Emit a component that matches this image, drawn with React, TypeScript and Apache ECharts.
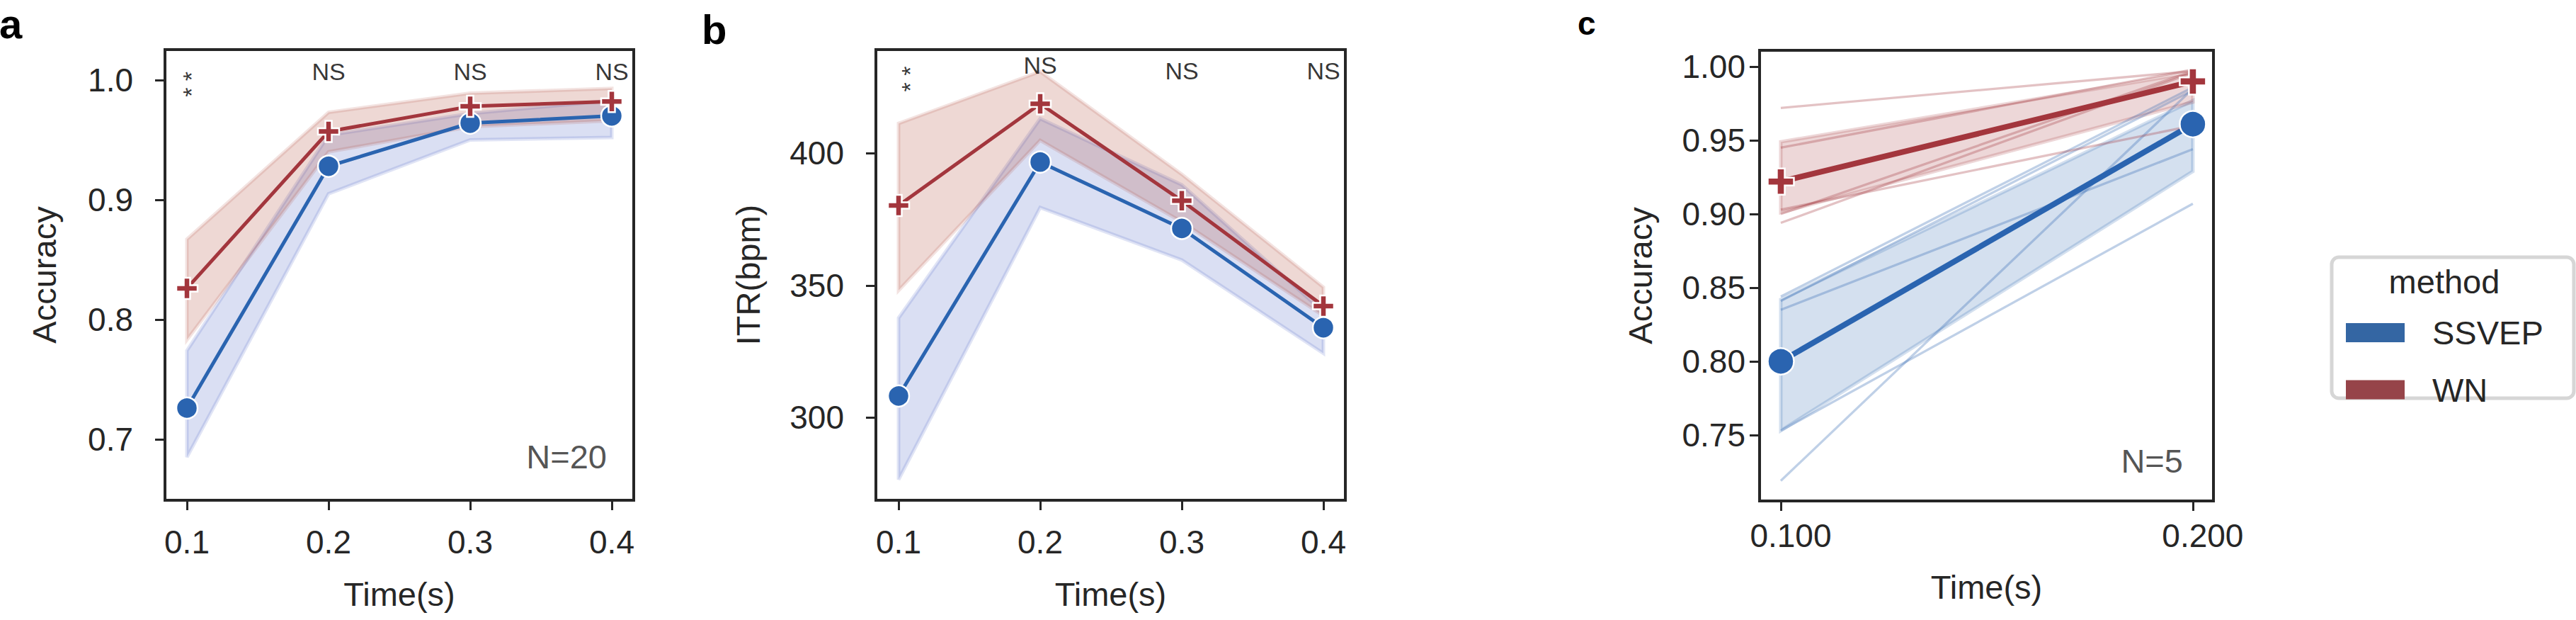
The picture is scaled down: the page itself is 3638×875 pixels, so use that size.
import React, { useEffect, useRef } from "react";
import * as echarts from "echarts";

// ---------- data ----------
const times4 = [0.1, 0.2, 0.3, 0.4];
const timesC = [0.1, 0.2];

// panel a: accuracy
const accSSVEP = [0.726, 0.928, 0.964, 0.970];
const accSSVEPLow = [0.685, 0.905, 0.950, 0.952];
const accSSVEPHigh = [0.774, 0.954, 0.972, 0.983];
const accWN = [0.826, 0.957, 0.978, 0.982];
const accWNLow = [0.783, 0.940, 0.961, 0.966];
const accWNHigh = [0.867, 0.973, 0.989, 0.993];

// panel b: ITR
const itrSSVEP = [308.2, 396.6, 371.5, 334.0];
const itrSSVEPLow = [276.6, 379.4, 359.6, 324.3];
const itrSSVEPHigh = [337.7, 413.0, 388.0, 340.0];
const itrWN = [380.2, 418.6, 382.0, 342.2];
const itrWNLow = [348.1, 404.8, 374.0, 338.5];
const itrWNHigh = [411.2, 430.8, 392.0, 349.3];

// panel c: accuracy, N=5
const cSSVEP = [0.800, 0.961];
const cSSVEPLow = [0.753, 0.929];
const cSSVEPHigh = [0.842, 0.977];
const cWN = [0.922, 0.990];
const cWNLow = [0.901, 0.976];
const cWNHigh = [0.949, 0.996];
const ssvepSubjects = [
  [0.844, 0.986],
  [0.841, 0.984],
  [0.835, 0.944],
  [0.753, 0.907],
  [0.719, 0.985],
];
const wnSubjects = [
  [0.972, 0.997],
  [0.945, 0.998],
  [0.903, 0.960],
  [0.900, 0.997],
  [0.894, 0.996],
];

// ticks
const ticksX4 = [0.1, 0.2, 0.3, 0.4];
const ticksXC = [0.1, 0.2];
const ticksYA = [0.7, 0.8, 0.9, 1.0];
const ticksYB = [300, 350, 400];
const ticksYC = [0.75, 0.8, 0.85, 0.9, 0.95, 1.0];

// significance annotations ("**" is shown stacked vertically)
const sigText = ["* *", "NS", "NS", "NS"];
const sigXA = [0.103, 0.2, 0.3, 0.4];
const sigYA = [0.99645, 1.0071, 1.0071, 1.0071];
const sigXB = [0.108, 0.2, 0.3, 0.4];
const sigYB = [428.0, 433.2, 431.2, 431.2];

const methods = ["SSVEP", "WN"];

// ---------- styles ----------
const FONT = "Liberation Sans, Arial, Helvetica, sans-serif";
const INK = "#262626";
const BLUE = "#2a64b0";
const RED = "#a3363d";
const PLUS = "path://M7,0H13V7H20V13H13V20H7V13H0V7H7Z";

function xAxis(gi: number, min: number, max: number, ticks: number[], dec: number, margin: number, nameGap: number, pad: number) {
  return {
    type: "value",
    gridIndex: gi,
    min,
    max,
    name: "Time(s)",
    nameLocation: "middle",
    nameGap,
    nameTextStyle: { fontSize: 47, color: INK, fontFamily: FONT },
    axisLine: { show: false },
    splitLine: { show: false },
    axisTick: { show: true, length: 14, lineStyle: { color: INK, width: 3 }, customValues: ticks },
    axisLabel: {
      show: true,
      customValues: ticks,
      formatter: (v: number) => Number(v).toFixed(dec),
      fontSize: 46,
      color: INK,
      fontFamily: FONT,
      margin,
      padding: [0, 0, 0, pad],
    },
  };
}

function yAxis(gi: number, min: number, max: number, ticks: number[], dec: number, margin: number, name: string, nameGap: number) {
  return {
    type: "value",
    gridIndex: gi,
    min,
    max,
    name,
    nameLocation: "middle",
    nameGap,
    nameTextStyle: { fontSize: 47, color: INK, fontFamily: FONT },
    axisLine: { show: false },
    splitLine: { show: false },
    axisTick: { show: true, length: 14, lineStyle: { color: INK, width: 3 }, customValues: ticks },
    axisLabel: {
      show: true,
      customValues: ticks,
      formatter: (v: number) => Number(v).toFixed(dec),
      fontSize: 46,
      color: INK,
      fontFamily: FONT,
      margin,
    },
  };
}

function band(ai: number, xs: number[], lo: number[], hi: number[], fill: string, stroke: string, lw: number) {
  return {
    type: "custom",
    xAxisIndex: ai,
    yAxisIndex: ai,
    silent: true,
    data: [[xs[0], lo[0]]],
    renderItem: (_p: any, api: any) => {
      const top = xs.map((x, i) => api.coord([x, hi[i]]));
      const bot = xs.map((x, i) => api.coord([x, lo[i]])).reverse();
      return {
        type: "polygon",
        shape: { points: top.concat(bot) },
        style: { fill, stroke, lineWidth: lw, lineJoin: "miter" },
      };
    },
  };
}

function meanLine(ai: number, name: string, xs: number[], ys: number[], color: string, symbol: string, size: number, width: number) {
  return {
    type: "line",
    name,
    xAxisIndex: ai,
    yAxisIndex: ai,
    silent: true,
    data: xs.map((x, i) => [x, ys[i]]),
    symbol,
    symbolSize: size,
    showSymbol: true,
    lineStyle: { color, width },
    itemStyle: { color, borderColor: "#ffffff", borderWidth: 2.5 },
    emphasis: { disabled: true },
  };
}

function subjectLine(ai: number, xs: number[], ys: number[], color: string) {
  return {
    type: "line",
    xAxisIndex: ai,
    yAxisIndex: ai,
    silent: true,
    data: xs.map((x, i) => [x, ys[i]]),
    symbol: "none",
    lineStyle: { color, width: 3.3, opacity: 0.3 },
    emphasis: { disabled: true },
  };
}

function annot(ai: number, xs: number[], ys: number[], texts: string[]) {
  return {
    type: "scatter",
    xAxisIndex: ai,
    yAxisIndex: ai,
    silent: true,
    symbolSize: 0,
    data: xs.map((x, i) => {
      const star = texts[i].indexOf("*") >= 0;
      return {
        value: [x, ys[i]],
        label: {
          show: true,
          position: [0, 0],
          align: "center",
          verticalAlign: "middle",
          rotate: star ? 90 : 0,
          formatter: texts[i],
          fontSize: 34,
          color: "#000000",
          fontFamily: FONT,
        },
      };
    }),
  };
}

function nLabel(ai: number, x: number, y: number, text: string) {
  return {
    type: "scatter",
    xAxisIndex: ai,
    yAxisIndex: ai,
    silent: true,
    symbolSize: 0,
    data: [
      {
        value: [x, y],
        label: {
          show: true,
          position: [0, 0],
          align: "right",
          verticalAlign: "middle",
          formatter: text,
          fontSize: 47,
          color: INK,
          fontFamily: FONT,
        },
      },
    ],
  };
}

export default function App() {
  const ref = useRef<HTMLDivElement>(null);

  useEffect(() => {
    document.body.style.margin = "0";
    const chart = echarts.init(ref.current as HTMLDivElement, null, { renderer: "svg" });

    const blueBandAB = "rgba(60,85,190,0.19)";
    const blueEdgeAB = "rgba(60,85,190,0.16)";
    const redBandAB = "rgba(170,60,40,0.2)";
    const redEdgeAB = "rgba(170,60,40,0.14)";
    const blueBandC = "rgba(42,100,176,0.2)";
    const redBandC = "rgba(163,54,61,0.2)";

    const series: any[] = [
      // panel a
      band(0, times4, accSSVEPLow, accSSVEPHigh, blueBandAB, blueEdgeAB, 5),
      band(0, times4, accWNLow, accWNHigh, redBandAB, redEdgeAB, 5),
      meanLine(0, "SSVEP-a", times4, accSSVEP, BLUE, "circle", 30, 5),
      meanLine(0, "WN-a", times4, accWN, RED, PLUS, 30, 5),
      annot(0, sigXA, sigYA, sigText),
      nLabel(0, 0.3965, 0.6852, "N=20"),
      // panel b
      band(1, times4, itrSSVEPLow, itrSSVEPHigh, blueBandAB, blueEdgeAB, 5),
      band(1, times4, itrWNLow, itrWNHigh, redBandAB, redEdgeAB, 5),
      meanLine(1, "SSVEP-b", times4, itrSSVEP, BLUE, "circle", 30, 5),
      meanLine(1, "WN-b", times4, itrWN, RED, PLUS, 30, 5),
      annot(1, sigXB, sigYB, sigText),
    ];
    // panel c
    ssvepSubjects.forEach((s) => series.push(subjectLine(2, timesC, s, BLUE)));
    series.push(band(2, timesC, cSSVEPLow, cSSVEPHigh, blueBandC, blueBandC, 5));
    series.push(meanLine(2, methods[0], timesC, cSSVEP, BLUE, "circle", 37, 8));
    wnSubjects.forEach((s) => series.push(subjectLine(2, timesC, s, RED)));
    series.push(band(2, timesC, cWNLow, cWNHigh, redBandC, redBandC, 5));
    series.push(meanLine(2, methods[1], timesC, cWN, RED, PLUS, 37, 8));
    series.push(nLabel(2, 0.1976, 0.7326, "N=5"));

    const gridBase = { show: true, borderColor: INK, borderWidth: 4, backgroundColor: "transparent", containLabel: false };

    chart.setOption({
      animation: false,
      backgroundColor: "#ffffff",
      textStyle: { fontFamily: FONT },
      grid: [
        { ...gridBase, left: 233, top: 70, width: 662, height: 636 },
        { ...gridBase, left: 1237, top: 70, width: 663, height: 636 },
        { ...gridBase, left: 2485, top: 71, width: 641, height: 636 },
      ],
      xAxis: [
        xAxis(0, 0.0845, 0.4155, ticksX4, 1, 36, 109, 0),
        xAxis(1, 0.084, 0.4155, ticksX4, 1, 36, 109, 0),
        xAxis(2, 0.09485, 0.205, ticksXC, 3, 26, 98, 28),
      ],
      yAxis: [
        yAxis(0, 0.649, 1.0254, ticksYA, 1, 45, "Accuracy", 147),
        yAxis(1, 268.8, 439.1, ticksYB, 0, 45, "ITR(bpm)", 157),
        yAxis(2, 0.7053, 1.0111, ticksYC, 2, 20, "Accuracy", 145),
      ],
      legend: {
        left: 3313,
        top: 446,
        orient: "vertical",
        itemWidth: 83,
        itemHeight: 27,
        itemGap: 33.5,
        padding: 0,
        selectedMode: false,
        icon: "rect",
        formatter: (name: string) => "{t|" + name + "}",
        textStyle: {
          fontSize: 47,
          color: INK,
          fontFamily: FONT,
          lineHeight: 27,
          rich: { t: { fontSize: 47, color: INK, fontFamily: FONT, lineHeight: 27, padding: [0, 0, 0, 34] } },
        },
        data: [
          { name: methods[0], icon: "rect", itemStyle: { color: "#3466a3", borderWidth: 0 } },
          { name: methods[1], icon: "rect", itemStyle: { color: "#964449", borderWidth: 0 } },
        ],
      },
      graphic: [
        { type: "rect", z: -1, shape: { x: 3293, y: 363, width: 342, height: 199, r: 10 }, style: { fill: "#ffffff", stroke: "#d6d6d6", lineWidth: 5 } },
        { type: "text", style: { x: 3452, y: 397, text: "method", fontSize: 47, fill: INK, fontFamily: FONT, align: "center", verticalAlign: "middle" } },
        { type: "text", style: { x: -1, y: 33, text: "a", fontSize: 58, fontWeight: "bold", fill: "#000", fontFamily: FONT, align: "left", verticalAlign: "middle" } },
        { type: "text", style: { x: 991, y: 41, text: "b", fontSize: 58, fontWeight: "bold", fill: "#000", fontFamily: FONT, align: "left", verticalAlign: "middle" } },
        { type: "text", style: { x: 2228, y: 33, text: "c", fontSize: 46, fontWeight: "bold", fill: "#000", fontFamily: FONT, align: "left", verticalAlign: "middle" } },
      ],
      series,
    });

    return () => chart.dispose();
  }, []);

  return <div ref={ref} style={{ width: 3638, height: 875 }} />;
}
